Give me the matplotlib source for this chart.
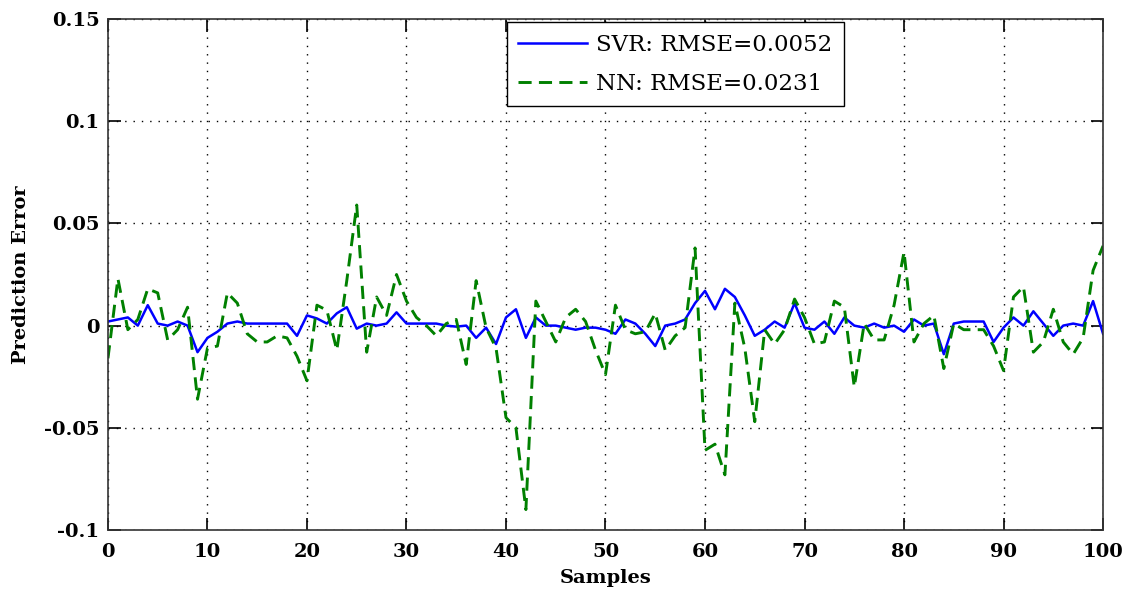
import numpy as np
import matplotlib
matplotlib.use('Agg')
import matplotlib.pyplot as plt
from matplotlib.ticker import FuncFormatter

samples = np.arange(0, 101)

svr_error = [0.002, 0.003, 0.004, 0.000, 0.010, 0.001, 0.000, 0.002, 0.000, -0.013,
             -0.006, -0.003, 0.001, 0.002, 0.001, 0.001, 0.001, 0.001, 0.001, -0.005,
             0.005, 0.0035, 0.001, 0.006, 0.009, -0.0015, 0.001, 0.000, 0.001, 0.0065,
             0.001, 0.001, 0.001, 0.001, 0.000, -0.0005, 0.000, -0.006, -0.001, -0.009,
             0.004, 0.008, -0.006, 0.004, 0.000, 0.000, -0.001, -0.002, -0.001, -0.001,
             -0.002, -0.004, 0.003, 0.001, -0.004, -0.010, 0.000, 0.001, 0.003, 0.011,
             0.017, 0.008, 0.018, 0.014, 0.005, -0.005, -0.002, 0.002, -0.001, 0.011,
             -0.001, -0.002, 0.002, -0.004, 0.004, 0.000, -0.001, 0.001, -0.001, 0.000,
             -0.003, 0.003, 0.000, 0.001, -0.014, 0.001, 0.002, 0.002, 0.002, -0.008,
             -0.001, 0.004, 0.000, 0.007, 0.001, -0.005, 0.000, 0.001, 0.000, 0.012,
             -0.004]

nn_error = [-0.016, 0.023, -0.002, 0.003, 0.018, 0.016, -0.007, -0.002, 0.009, -0.036,
            -0.011, -0.010, 0.016, 0.011, -0.004, -0.008, -0.008, -0.005, -0.006, -0.015,
            -0.027, 0.010, 0.0075, -0.012, 0.022, 0.059, -0.013, 0.014, 0.005, 0.025,
            0.012, 0.004, 0.000, -0.005, 0.001, 0.003, -0.019, 0.022, -0.001, -0.011,
            -0.045, -0.050, -0.090, 0.012, 0.002, -0.008, 0.004, 0.008, 0.002, -0.012,
            -0.024, 0.010, -0.002, -0.004, -0.003, 0.006, -0.012, -0.005, -0.001, 0.038,
            -0.061, -0.058, -0.073, 0.011, -0.011, -0.047, -0.002, -0.009, -0.002, 0.013,
            0.004, -0.009, -0.008, 0.012, 0.009, -0.030, 0.001, -0.007, -0.007, 0.010,
            0.036, -0.008, 0.001, 0.005, -0.021, 0.001, -0.002, -0.002, -0.002, -0.010,
            -0.022, 0.014, 0.019, -0.013, -0.008, 0.008, -0.008, -0.014, -0.006, 0.027,
            0.039]

svr_label = 'SVR: RMSE=0.0052'
nn_label = 'NN: RMSE=0.0231'

plt.rcParams['font.family'] = ['DejaVu Serif']
plt.rcParams['axes.unicode_minus'] = False

fig = plt.figure(figsize=(11.34, 5.92), dpi=100)
ax = fig.add_axes([0.0952, 0.1047, 0.8775, 0.8632])

ax.plot(samples, svr_error, color='#0000ff', lw=1.8, label=svr_label)
ax.plot(samples, nn_error, color='#008000', lw=2.1, ls=(0, (4.5, 2.5)), label=nn_label)

ax.set_xlim(0, 100)
ax.set_ylim(-0.1, 0.15)
ax.set_xticks(np.arange(0, 101, 10))
ax.set_yticks([-0.1, -0.05, 0, 0.05, 0.1, 0.15])
ax.yaxis.set_major_formatter(FuncFormatter(lambda v, p: '%g' % round(v, 3)))

ax.grid(True, color='black', ls=(0, (1, 5)), lw=1.0)
ax.tick_params(direction='in', length=9, width=1.2, top=True, right=True, labelsize=14)
ax.tick_params(axis='x', pad=9)
ax.tick_params(axis='y', pad=6)
for lab in ax.get_xticklabels() + ax.get_yticklabels():
    lab.set_fontweight('bold')
for s in ax.spines.values():
    s.set_linewidth(1.2)
    s.set_color('#333333')

ax.set_xlabel('Samples', fontsize=14, fontweight='bold', labelpad=6)
ax.set_ylabel('Prediction Error', fontsize=14, fontweight='bold', labelpad=10)

leg = ax.legend(loc='upper left', bbox_to_anchor=(0.401, 0.994), borderaxespad=0,
                fontsize=16.5, frameon=True, fancybox=False, edgecolor='black',
                framealpha=1, handlelength=3.0, handletextpad=0.4,
                borderpad=0.5, labelspacing=0.75)
leg.get_frame().set_linewidth(1.0)

fig.savefig('out.png', dpi=100)
